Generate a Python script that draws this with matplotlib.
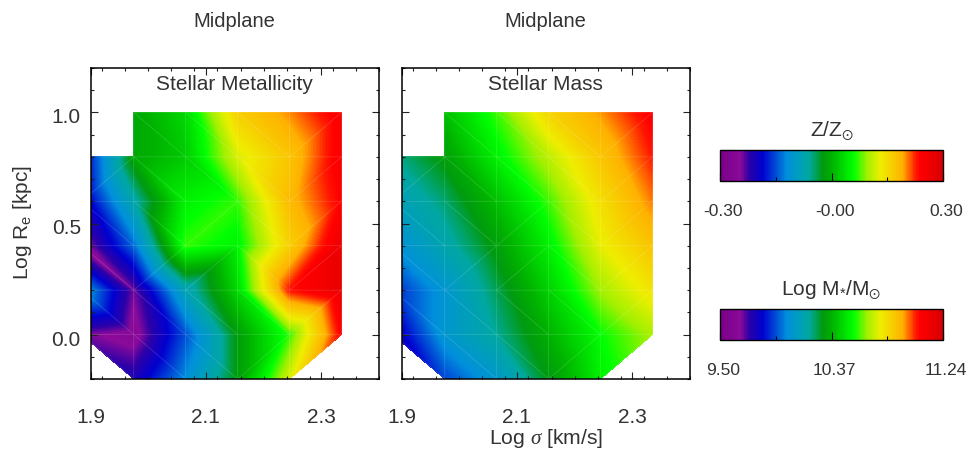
#!/usr/bin/python3

import matplotlib
matplotlib.use('Agg')
import matplotlib.pyplot as plt
import matplotlib.tri as mtri
from matplotlib.colors import LinearSegmentedColormap, Normalize
from matplotlib.cm import ScalarMappable
from matplotlib.ticker import MultipleLocator, FixedLocator
from matplotlib.transforms import ScaledTranslation
import numpy as np

plt.rcParams['font.family'] = ['Liberation Sans', 'DejaVu Sans']
plt.rcParams['mathtext.fontset'] = 'custom'
plt.rcParams['mathtext.rm'] = 'Liberation Sans'
plt.rcParams['mathtext.it'] = 'Liberation Serif:italic'
plt.rcParams['mathtext.fallback'] = 'stixsans'

W, H = 966.0, 451.0
TEXT = '#333333'

log_sigma = [1.885, 1.975, 2.065, 2.155, 2.245, 2.335]
log_re = [1.0, 0.8, 0.6, 0.4, 0.2, 0.0, -0.2]

nan = float('nan')

# Z/Zsun per row of log_re
metallicity = [
    [nan, -0.01, 0.03, 0.16, 0.20, 0.25],
    [-0.20, -0.01, 0.02, 0.12, 0.17, 0.25],
    [-0.21, -0.07, 0.05, 0.07, 0.18, 0.24],
    [-0.26, -0.14, 0.07, 0.05, 0.16, 0.27],
    [-0.10, -0.24, -0.08, 0.03, 0.23, 0.27],
    [-0.24, -0.26, -0.15, -0.02, 0.07, 0.24],
    [nan, -0.21, -0.12, -0.02, 0.12, nan],
]

# log stellar mass per row of log_re
stellar_mass = [
    [nan, 10.40, 10.58, 10.82, 10.94, 11.08],
    [10.20, 10.32, 10.51, 10.68, 10.86, 11.03],
    [10.11, 10.23, 10.40, 10.58, 10.79, 10.96],
    [10.02, 10.16, 10.32, 10.51, 10.74, 10.87],
    [9.88, 10.06, 10.25, 10.44, 10.65, 10.78],
    [9.76, 10.06, 10.20, 10.37, 10.54, 10.66],
    [nan, 9.92, 10.07, 10.30, 10.51, nan],
]

# cell diagonals: 'd' top left to bottom right, 'u' bottom left to top right, '' no cell
diagonals = [
    ['', 'd', 'd', 'd', 'u'],
    ['u', 'd', 'd', 'd', 'u'],
    ['d', 'd', 'u', 'd', 'u'],
    ['d', 'u', 'u', 'd', 'u'],
    ['d', 'd', 'd', 'd', 'u'],
    ['d', 'd', 'd', 'u', 'u'],
]

cmap_stops = [
    (0.00, '#7a0088'), (0.09, '#8a0a9a'), (0.13, '#2c00a8'), (0.19, '#0000d0'),
    (0.30, '#0090dc'), (0.40, '#00a8a0'), (0.46, '#009a10'), (0.50, '#00b000'),
    (0.60, '#00ff00'), (0.66, '#a0f000'), (0.72, '#eeee00'), (0.82, '#ffb000'),
    (0.88, '#ff1800'), (0.90, '#ff0000'), (1.00, '#d80000'),
]
rainbow = LinearSegmentedColormap.from_list('idl_rainbow', cmap_stops, N=256)


def pix_axes(left, top, right, bottom):
    return fig.add_axes([left / W, 1 - bottom / H, (right - left) / W, (bottom - top) / H])


def shift_labels(labels, dx, dy):
    # dx, dy in pixels
    off = ScaledTranslation(dx / 100.0, dy / 100.0, fig.dpi_scale_trans)
    for lbl in labels:
        lbl.set_transform(lbl.get_transform() + off)


def panel(ax, values, vmin, vmax, label):
    xx, yy = np.meshgrid(log_sigma, log_re)
    vals = np.array(values, dtype=float)
    nc = len(log_sigma)
    tris = []
    for r, row in enumerate(diagonals):
        for c, d in enumerate(row):
            tl, tr = r * nc + c, r * nc + c + 1
            bl, br = tl + nc, tr + nc
            if d == 'd':
                cell = [(tl, tr, br), (tl, br, bl)]
            elif d == 'u':
                cell = [(tl, tr, bl), (tr, br, bl)]
            else:
                cell = []
            for t in cell:
                if np.all(np.isfinite(vals.ravel()[list(t)])):
                    tris.append(t)
    tri = mtri.Triangulation(xx.ravel(), yy.ravel(), tris)
    levels = np.linspace(vmin, vmax, 257)
    ax.tricontourf(tri, np.nan_to_num(vals.ravel(), nan=vmin), levels=levels, cmap=rainbow,
                   vmin=vmin, vmax=vmax, extend='both')
    # faint seams between the cells
    ax.triplot(tri, color='white', lw=0.5, alpha=0.18)
    ax.set_xlim(1.9, 2.4)
    ax.set_ylim(-0.2, 1.2)
    ax.xaxis.set_major_locator(FixedLocator([1.9, 2.1, 2.3]))
    ax.xaxis.set_minor_locator(MultipleLocator(0.04))
    ax.yaxis.set_major_locator(FixedLocator([0.0, 0.5, 1.0]))
    ax.yaxis.set_minor_locator(MultipleLocator(0.1))
    ax.tick_params(which='both', direction='in', top=True, right=True, width=0.8, colors='#222222')
    ax.tick_params(which='major', length=5)
    ax.tick_params(which='minor', length=2.5)
    ax.tick_params(axis='x', which='major', pad=21, labelsize=15, labelcolor=TEXT)
    ax.tick_params(axis='y', which='major', pad=7, labelsize=15, labelcolor=TEXT)
    ax.set_xticklabels(['1.9', '2.1', '2.3'])
    for s in ax.spines.values():
        s.set_linewidth(1.1)
    ax.set_title('Midplane', fontsize=14.5, color=TEXT, pad=29.5)
    ax.text(0.5, 0.947, label, transform=ax.transAxes, ha='center', va='center',
            fontsize=15, color=TEXT)


def colorbar(cax, vmin, vmax, labels, title):
    sm = ScalarMappable(norm=Normalize(vmin, vmax), cmap=rainbow)
    cb = fig.colorbar(sm, cax=cax, orientation='horizontal')
    mid = (vmin + vmax) / 2.0
    cb.set_ticks([vmin, mid, vmax])
    cb.set_ticklabels(labels)
    cb.ax.xaxis.set_minor_locator(FixedLocator([(vmin + mid) / 2.0, (mid + vmax) / 2.0]))
    cb.ax.tick_params(which='major', direction='in', length=6, width=0.8, pad=16.5,
                      labelsize=12.5, labelcolor=TEXT)
    cb.ax.tick_params(which='minor', direction='in', length=3, width=0.8)
    cb.outline.set_linewidth(1.0)
    shift_labels(cb.ax.get_xticklabels(), 3, 0)
    cax.set_title(title, fontsize=15, color=TEXT, pad=10)


fig = plt.figure(figsize=(W / 100, H / 100), dpi=100)

ax1 = pix_axes(90.5, 68, 379, 379)
panel(ax1, metallicity, -0.30, 0.30, 'Stellar Metallicity')
ax1.set_yticklabels(['0.0', '0.5', '1.0'])
shift_labels(ax1.get_yticklabels(), 0, -3.5)

ax2 = pix_axes(401.5, 68, 690, 379)
panel(ax2, stellar_mass, 9.50, 11.24, 'Stellar Mass')
ax2.set_yticklabels([])

fig.text(546 / W, 1 - 439 / H, r'Log $\mathit{\sigma}$ [km/s]', ha='center', va='center',
         fontsize=15.2, color=TEXT)
fig.text(22 / W, 1 - 223 / H, r'Log R$_{\rm e}$ [kpc]', ha='center', va='center',
         rotation=90, fontsize=15, color=TEXT)

cax1 = pix_axes(720, 149.5, 943, 181)
colorbar(cax1, -0.30, 0.30, ['-0.30', '-0.00', '0.30'], r'Z/Z$_{\odot}$')

cax2 = pix_axes(720, 308.5, 943, 340)
colorbar(cax2, 9.50, 11.24, ['9.50', '10.37', '11.24'], r'Log M$_{*}$/M$_{\odot}$')

fig.savefig('out.png', dpi=100)
